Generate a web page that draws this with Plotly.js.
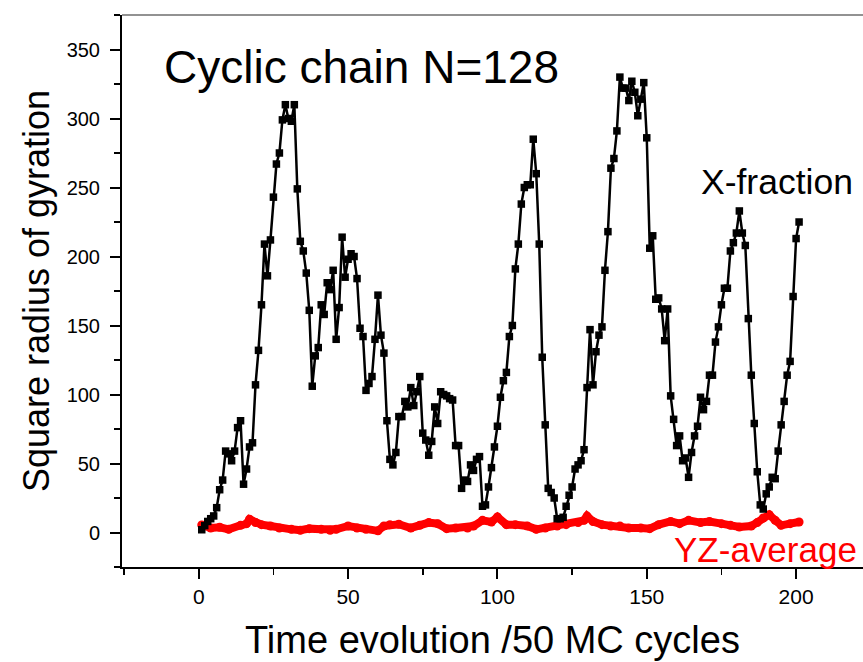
<!DOCTYPE html>
<html>
<head>
<meta charset="utf-8">
<script src="https://cdn.plot.ly/plotly-3.0.1.min.js"></script>
<style>
html,body{margin:0;padding:0;background:#fff;overflow:hidden;}
#chart{width:863px;height:662px;}
</style>
</head>
<body>
<div id="chart"></div>
<script>
// X-fraction series (time steps 1..201)
var xSteps = [];
for (var i = 1; i <= 201; i++) xSteps.push(i);
var xFraction = [
  2, 5, 8, 10, 12, 18, 31, 38, 59, 57,
  52, 59, 76, 81, 35, 46, 62, 65, 107, 132,
  165, 209, 186, 212, 243, 267, 275, 299, 310, 300,
  298, 310, 249, 211, 204, 188, 161, 106, 128, 134,
  165, 158, 181, 176, 190, 140, 163, 214, 185, 198,
  202, 200, 184, 148, 142, 103, 108, 113, 140, 172,
  143, 130, 81, 53, 49, 58, 84, 84, 95, 91,
  105, 92, 102, 113, 72, 67, 56, 66, 91, 79,
  102, 100, 99, 97, 96, 63, 63, 32, 38, 37,
  49, 45, 53, 55, 19, 20, 33, 47, 62, 77,
  98, 110, 116, 142, 150, 191, 209, 238, 250, 252,
  252, 285, 260, 209, 127, 78, 32, 29, 25, 10,
  10, 11, 19, 27, 33, 46, 49, 52, 60, 105,
  147, 107, 131, 143, 149, 190, 218, 264, 271, 291,
  330, 322, 322, 313, 327, 319, 302, 314, 326, 286,
  206, 215, 169, 170, 162, 139, 162, 99, 82, 63,
  70, 52, 54, 40, 58, 70, 77, 98, 89, 95,
  114, 114, 138, 149, 165, 177, 177, 204, 210, 217,
  233, 217, 208, 155, 114, 79, 44, 20, 17, 28,
  33, 40, 39, 59, 78, 95, 114, 124, 171, 213,
  225
];
// YZ-average series
var yzSteps = [1, 4, 7, 10, 14, 16, 17, 19, 21, 24, 27, 31, 34, 37, 41, 44, 46, 50, 53, 56,
  60, 62, 64, 67, 71, 74, 77, 80, 83, 86, 90, 92, 95, 98, 100, 103, 106, 110, 113, 116,
  120, 123, 127, 129, 130, 132, 135, 138, 141, 144, 148, 151, 154, 158, 161, 164, 168, 171, 175, 178,
  181, 185, 187, 189, 191, 193, 195, 198, 201];
var yzAverage = [5.5, 3.3, 3.8, 2.3, 5.2, 6.4, 9.6, 7.2, 5.7, 4.7, 3.3, 2.3, 1.6, 2.8, 2.3, 1.6, 2.3, 4.7, 3.3, 2.3,
  1.2, 4.7, 5.7, 6, 3.3, 5.2, 7.2, 6.4, 2.8, 3.3, 3.3, 4.7, 8.8, 7.6, 11.3, 5.7, 5.7, 4.7, 2.3, 3.3,
  4.7, 5.7, 7.2, 8.8, 11.9, 8, 5.7, 4.7, 4.7, 3.3, 3.3, 2.8, 5.7, 8, 6.4, 8.8, 7.2, 8, 6.4, 5.2,
  4, 4.7, 7.2, 10.5, 12.9, 8.8, 5.2, 6.4, 7.6];

var xMajorTicks = [0, 50, 100, 150, 200];
var yMajorTicks = [0, 50, 100, 150, 200, 250, 300, 350];

var traces = [
  {
    x: yzSteps, y: yzAverage, type: 'scatter', mode: 'lines+markers',
    line: {color: '#ff0000', width: 8},
    marker: {color: '#ff0000', size: 9, symbol: 'circle'},
    name: 'YZ-average', showlegend: false, cliponaxis: false
  },
  {
    x: xSteps, y: xFraction, type: 'scatter', mode: 'lines+markers',
    line: {color: '#000000', width: 2.5},
    marker: {color: '#000000', size: 7.5, symbol: 'square'},
    name: 'X-fraction', showlegend: false, cliponaxis: false
  }
];

var sans = 'Liberation Sans, Arial, sans-serif';

var layout = {
  width: 863, height: 662,
  margin: {l: 122, r: 0, t: 15, b: 95},
  paper_bgcolor: '#ffffff', plot_bgcolor: '#ffffff',
  showlegend: false,
  xaxis: {
    range: [-25.7, 222.4],
    tickvals: xMajorTicks, ticktext: xMajorTicks.map(String),
    ticks: 'outside', ticklen: 10, tickwidth: 2, tickcolor: '#000',
    minor: {dtick: 25, tick0: 0, ticks: 'outside', ticklen: 6, tickwidth: 1.5, tickcolor: '#000', showgrid: false},
    showline: true, linecolor: '#000', linewidth: 2,
    showgrid: false, zeroline: false,
    tickfont: {family: sans, size: 21, color: '#000'},
    title: {text: 'Time evolution /50 MC cycles', font: {family: sans, size: 38, color: '#000'}, standoff: 19}
  },
  yaxis: {
    range: [-25, 375],
    tickvals: yMajorTicks, ticktext: yMajorTicks.map(String),
    ticks: 'outside', ticklen: 10, tickwidth: 2, tickcolor: '#000',
    minor: {dtick: 25, tick0: 0, ticks: 'outside', ticklen: 6, tickwidth: 1.5, tickcolor: '#000', showgrid: false},
    showline: true, linecolor: '#000', linewidth: 2,
    showgrid: false, zeroline: false,
    ticklabelstandoff: 6,
    tickfont: {family: sans, size: 20, color: '#000'},
    title: {text: 'Square radius of gyration', font: {family: sans, size: 36, color: '#000'}, standoff: 6}
  },
  shapes: [
    {type: 'line', xref: 'paper', yref: 'paper', x0: 0, x1: 1, y0: 1, y1: 1, line: {color: '#6e6e6e', width: 1.5}}
  ],
  annotations: [
    {text: 'Cyclic chain N=128', x: -12.3, y: 337, xref: 'x', yref: 'y', xanchor: 'left', yanchor: 'middle', showarrow: false,
     font: {family: sans, size: 46, color: '#000'}},
    {text: 'X-fraction', x: 167.5, y: 254, xref: 'x', yref: 'y', xanchor: 'left', yanchor: 'middle', showarrow: false,
     font: {family: sans, size: 35.5, color: '#000'}},
    {text: 'YZ-average', x: 158.5, y: -12.5, xref: 'x', yref: 'y', xanchor: 'left', yanchor: 'middle', showarrow: false,
     font: {family: sans, size: 35, color: '#ff0000'}}
  ]
};

Plotly.newPlot('chart', traces, layout, {staticPlot: true, displayModeBar: false});
</script>
</body>
</html>
